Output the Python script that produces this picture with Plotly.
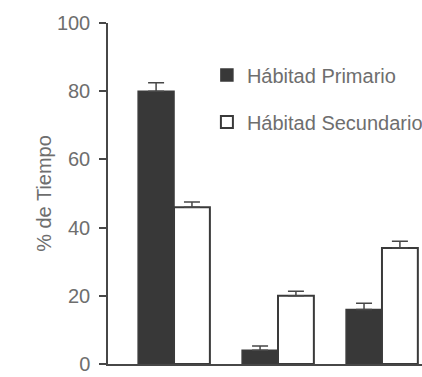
import plotly.graph_objects as go

categories = ["A", "B", "C"]
primario = [80, 4, 16]
primario_err = [2.5, 1.3, 1.8]
secundario = [46, 20, 34]
secundario_err = [1.5, 1.3, 2.0]
y_ticks = [0, 20, 40, 60, 80, 100]

axis_col = "#474747"
text_col = "#6e6e6e"
font_fam = "Liberation Sans, Arial, sans-serif"

fig = go.Figure()
fig.add_trace(go.Bar(
    x=categories, y=primario, name="Hábitad Primario", legendgroup="p",
    marker=dict(color="#383838", line=dict(color="#3a3a3a", width=1.5)),
    error_y=dict(type="data", array=primario_err, arrayminus=[0]*3, symmetric=False,
                 color=axis_col, thickness=1.5, width=8),
))
fig.add_trace(go.Bar(
    x=categories, y=secundario, name="Hábitad Secundario", legendgroup="s",
    marker=dict(color="white", line=dict(color="#3a3a3a", width=2)),
    error_y=dict(type="data", array=secundario_err, arrayminus=[0]*3, symmetric=False,
                 color=axis_col, thickness=1.5, width=8),
))

fig.update_layout(
    width=422, height=377,
    margin=dict(l=108, r=0, t=23, b=13, autoexpand=False),
    paper_bgcolor="white", plot_bgcolor="white",
    barmode="group", bargap=0.31, bargroupgap=0,
    font=dict(family=font_fam, color=text_col, size=20),
    showlegend=True,
    legend=dict(x=0.315, y=0.905, xanchor="left", yanchor="top",
                bgcolor="rgba(0,0,0,0)", font=dict(size=20, color=text_col),
                tracegroupgap=18, itemwidth=30),
    xaxis=dict(range=[-0.635, 2.385], showticklabels=False, ticks="",
               showline=True, linecolor=axis_col, linewidth=1.5, showgrid=False,
               zeroline=False, automargin=False),
    yaxis=dict(range=[0, 100], tickvals=y_ticks, ticks="outside", ticklen=7,
               tickwidth=1.5, tickcolor=axis_col, showline=True, linecolor=axis_col,
               linewidth=1.5, showgrid=False, zeroline=False, automargin=False,
               tickfont=dict(size=20, color=text_col), ticklabelstandoff=5,
               ticklabeloverflow="allow",
               title=dict(text="% de Tiempo", font=dict(size=20, color=text_col), standoff=0)),
)

fig.write_html("out.html")
